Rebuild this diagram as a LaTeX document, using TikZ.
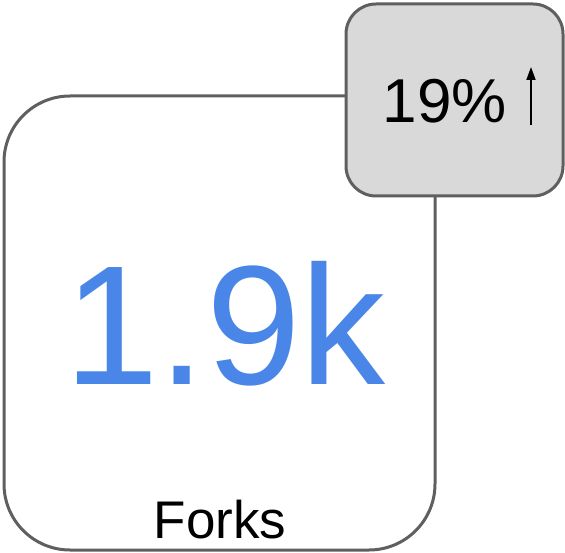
\documentclass[tikz,border=0pt]{standalone}
\usepackage{fontspec}
\setmainfont{Liberation Sans}
\usetikzlibrary{arrows.meta}
\definecolor{edgegray}{RGB}{95,95,95}
\definecolor{fillgray}{RGB}{217,217,217}
\definecolor{gblue}{RGB}{74,134,232}
\begin{document}
\begin{tikzpicture}[x=1pt,y=1pt,
  cardbox/.style={draw=edgegray,line width=3pt,fill=white,rounded corners=66pt},
  badgebox/.style={draw=edgegray,line width=3pt,fill=fillgray,rounded corners=30pt},
  lbl/.style={inner sep=0pt,anchor=base}]
\useasboundingbox (0,0) rectangle (565,552);
\draw[cardbox] (4,2) rectangle (435,456);
\node[lbl,text=gblue,font=\fontsize{170}{170}\selectfont] (value) at (225,167) {1.9k};
\node[lbl,font=\fontsize{53}{53}\selectfont] (title) at (220,14) {Forks};
\draw[badgebox] (346,356) rectangle (563,548);
\node[lbl,font=\fontsize{62}{62}\selectfont] (pct) at (445,429) {19\%};
\coordinate (arrowlow) at (531,427);
\coordinate (arrowhigh) at (531,485);
\draw[line width=1.8pt,-{Triangle[width=9pt,length=13pt]}] (arrowlow) -- (arrowhigh);
\end{tikzpicture}
\end{document}
